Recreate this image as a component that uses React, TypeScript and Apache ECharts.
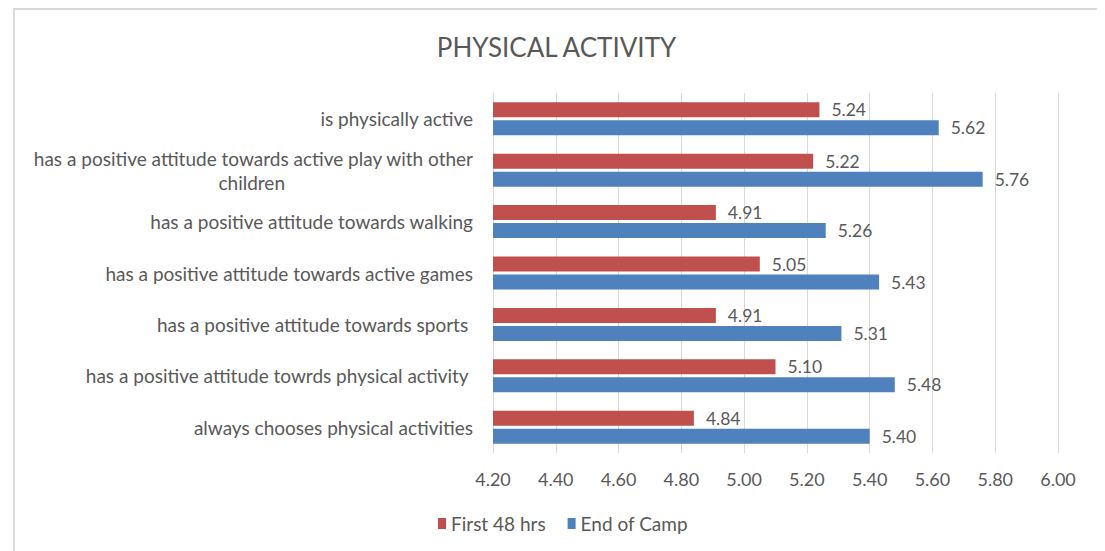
import React, { useEffect, useRef } from "react";
import * as echarts from "echarts";

const categories = [
  "is physically active",
  "has a positive attitude towards active play with other\n{c|children}",
  "has a positive attitude towards walking",
  "has a positive attitude towards active games",
  "has a positive attitude towards sports ",
  "has a positive attitude towrds physical activity ",
  "always chooses physical activities",
];
const first48 = [5.24, 5.22, 4.91, 5.05, 4.91, 5.10, 4.84];
const endOfCamp = [5.62, 5.76, 5.26, 5.43, 5.31, 5.48, 5.40];
const seriesNames = ["First 48 hrs", "End of Camp"];

const FONT = "Lato";
const TXT = "#595959";

export default function App() {
  const ref = useRef<HTMLDivElement>(null);
  useEffect(() => {
    if (!ref.current) return;
    const chart = echarts.init(ref.current, undefined, { renderer: "svg" });
    const label = {
      show: true,
      position: "right",
      distance: 12,
      color: TXT,
      fontSize: 17.5,
      fontFamily: FONT,
      formatter: (p: any) => Number(p.value).toFixed(2),
    };
    chart.setOption({
      animation: false,
      backgroundColor: "#fff",
      textStyle: { fontFamily: FONT },
      title: {
        text: "PHYSICAL ACTIVITY",
        left: "center",
        top: 21,
        textStyle: { color: TXT, fontSize: 26, fontWeight: "normal", fontFamily: FONT },
      },
      graphic: [
        {
          type: "rect",
          shape: { x: 6, y: 1, width: 1087, height: 560 },
          style: { fill: "none", stroke: "#d9d9d9", lineWidth: 2 },
          silent: true,
        },
      ],
      legend: {
        top: 501,
        left: 425,
        icon: "rect",
        itemWidth: 8,
        itemHeight: 11,
        itemGap: 22,
        textStyle: { color: TXT, fontSize: 19, fontFamily: FONT },
        data: seriesNames,
      },
      grid: { left: 485, right: 47, top: 85, bottom: 98 },
      xAxis: {
        type: "value",
        min: 4.2,
        max: 6.0,
        interval: 0.2,
        axisLine: { show: false },
        axisTick: { show: false },
        splitLine: { show: true, lineStyle: { color: "#d9d9d9" } },
        axisLabel: {
          color: TXT,
          fontSize: 18,
          fontFamily: FONT,
          margin: 17,
          formatter: (v: number) => v.toFixed(2),
        },
      },
      yAxis: {
        type: "category",
        inverse: true,
        data: categories,
        axisLine: { show: true, lineStyle: { color: "#d9d9d9" } },
        axisTick: { show: false },
        axisLabel: {
          color: TXT,
          fontSize: 19,
          fontFamily: FONT,
          margin: 20,
          lineHeight: 24,
          rich: {
            c: { color: TXT, fontSize: 19, fontFamily: FONT, lineHeight: 24, padding: [0, 188, 0, 0] },
          },
        },
      },
      series: [
        {
          name: seriesNames[0],
          type: "bar",
          data: first48,
          barWidth: 15,
          barGap: "20%",
          clip: true,
          itemStyle: { color: "#C0504D" },
          label,
        },
        {
          name: seriesNames[1],
          type: "bar",
          data: endOfCamp,
          barWidth: 15,
          barGap: "20%",
          clip: true,
          itemStyle: { color: "#4F81BD" },
          label,
        },
      ],
    });
    return () => chart.dispose();
  }, []);
  return <div ref={ref} style={{ width: 1097, height: 543 }} />;
}
